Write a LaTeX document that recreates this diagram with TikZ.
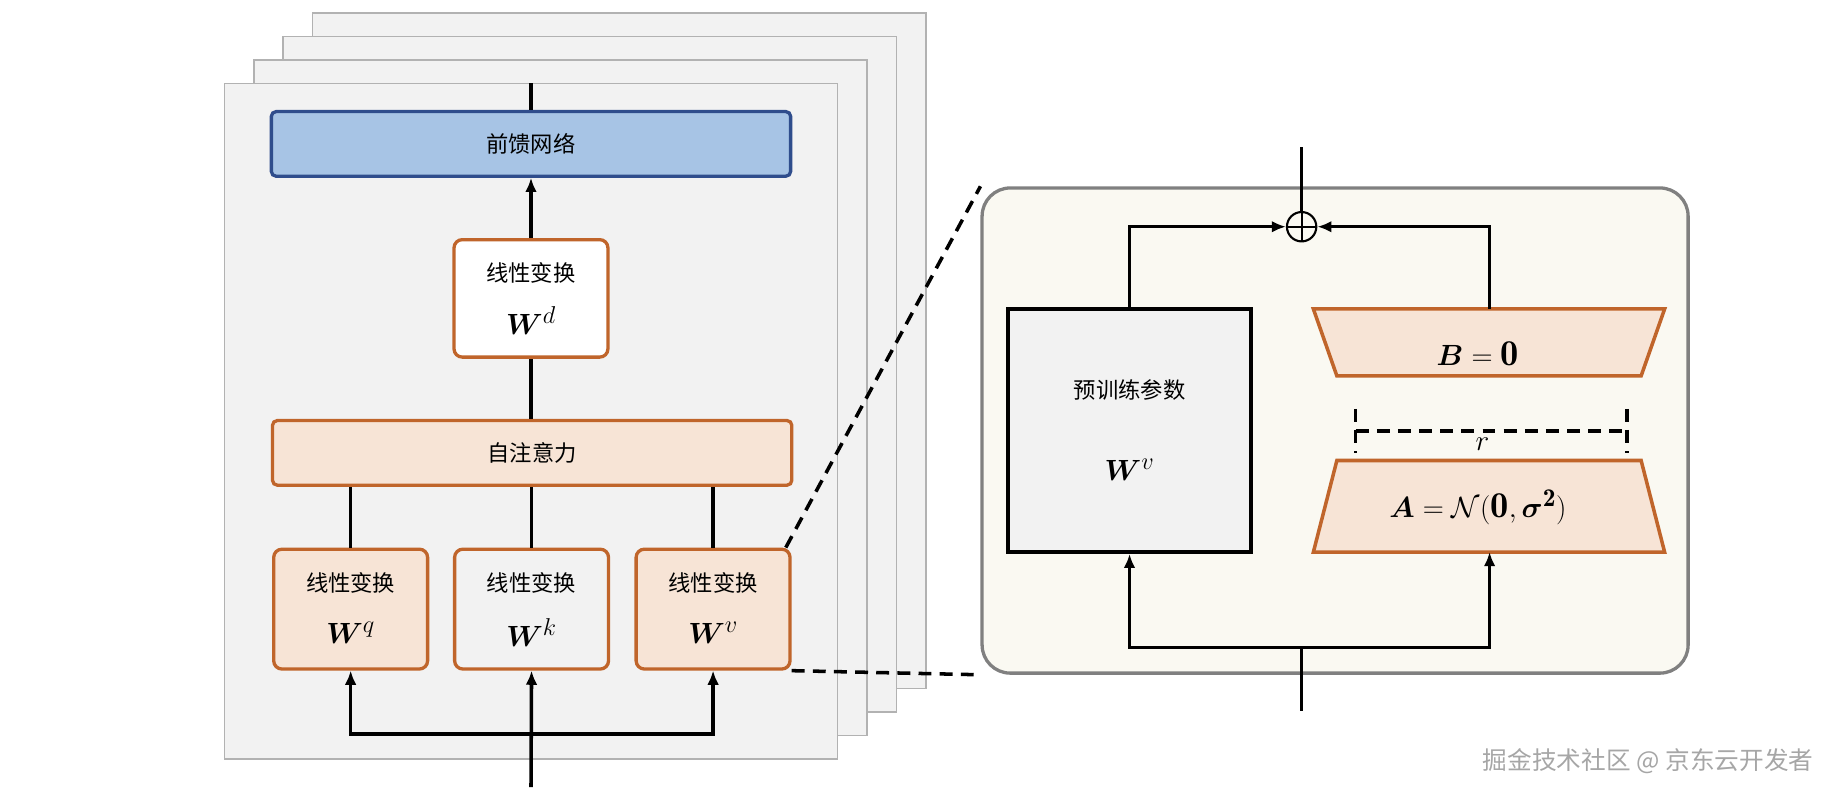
\documentclass[tikz,border=0pt]{standalone}
\usepackage{amsmath}
\usepackage{amsfonts}
\usepackage{fontspec}
\newfontfamily\cjk{Noto Sans CJK SC}
\usetikzlibrary{arrows.meta}
\definecolor{pagegray}{HTML}{F2F2F2}
\definecolor{ffblue}{HTML}{A7C4E5}
\definecolor{ffborder}{HTML}{2F4D8C}
\definecolor{orangeb}{HTML}{C0652B}
\definecolor{orangef}{HTML}{F7E4D6}
\definecolor{panelf}{HTML}{FAF9F2}
\tikzset{
	page/.style={draw=black!30,fill=pagegray,line width=1.4pt},
	lin/.style={draw=orangeb,line width=2.8pt,rounded corners=7pt,minimum width=131pt,minimum height=102pt},
	wire/.style={line width=3pt},
	arr/.style={wire,-{Latex[length=12pt,width=10pt]}},
	dashln/.style={line width=3pt,dash pattern=on 11pt off 7pt},
	zh/.style={font=\cjk\fontsize{19}{19}\selectfont},
	mth/.style={font=\fontsize{31}{31}\selectfont}
}
\begin{document}
\begin{tikzpicture}[x=1pt,y=-1pt]
	\useasboundingbox (0,0) rectangle (1568,676);
	% stacked pages
	\foreach \k in {3,2,1} {
		\draw[page] (191+25*\k,71-20*\k) rectangle (713+25*\k,646-20*\k);
	}
	\draw[page] (191,71) rectangle (713,646);
	\coordinate (ptop) at (452,71);

	\node[draw=ffborder,fill=ffblue,line width=2.8pt,rounded corners=4pt,minimum width=442pt,minimum height=55pt,zh] (ff) at (452,122.5) {前馈网络};
	\node[lin,fill=white,minimum height=100pt] (wd) at (452,254) {};
	\node[zh] at (452,232) {线性变换};
	\node[mth] at (452,273) {$\boldsymbol{W}^d$};
	\node[lin,fill=orangef,rounded corners=4pt,minimum width=442pt,minimum height=55pt,zh] (att) at (453,385.5) {自注意力};

	\node[lin,fill=orangef] (wq) at (298.5,518.5) {};
	\node[lin,fill=pagegray] (wk) at (452.5,518.5) {};
	\node[lin,fill=orangef] (wv) at (607,518.5) {};
	\foreach \n/\s in {wq/q,wk/k,wv/v} {
		\node[zh] at ([yshift=22pt]\n.center) {线性变换};
		\node[mth] at ([yshift=-20pt]\n.center) {$\boldsymbol{W}^\s$};
	}

	\coordinate (inl) at (452,670);
	\coordinate (spl) at (452,625);
	\draw[wire] (ptop) -- (ff.north);
	\draw[arr] (wd.north) -- (ff.south);
	\draw[wire] (att.north -| wd.south) -- (wd.south);
	\draw[wire] (wq.north) -- (wq.north |- att.south);
	\draw[wire] (wk.north) -- (wk.north |- att.south);
	\draw[wire] (wv.north) -- (wv.north |- att.south);
	\draw[arr] (inl) -- (wk.south);
	\draw[arr] (spl) -| (wq.south);
	\draw[arr] (spl) -| (wv.south);

	% zoomed panel
	\node[draw=black!50,fill=panelf,line width=2.8pt,rounded corners=24pt,minimum width=601pt,minimum height=413pt] (panel) at (1136.5,366.5) {};
	\draw[dashln] ([xshift=-5pt]wv.north east) -- (panel.north west);
	\draw[dashln] (wv.south east) -- (panel.south west);

	\node[draw=black,fill=pagegray,line width=3pt,minimum width=207pt,minimum height=207pt] (pre) at (961.5,366.5) {};
	\node[zh] at (961.5,332) {预训练参数};
	\node[mth] at (961.5,400) {$\boldsymbol{W}^v$};

	\draw[draw=orangeb,fill=orangef,line width=3pt] (1118,263) -- (1417,263) -- (1397,320) -- (1138,320) -- cycle;
	\draw[draw=orangeb,fill=orangef,line width=3pt] (1138,392) -- (1397,392) -- (1417,470) -- (1118,470) -- cycle;
	\node[mth] (bmat) at (1258,301) {$\boldsymbol{B}=\mathbf{0}$};
	\node[mth] (amat) at (1258,432) {$\boldsymbol{A}=\mathcal{N}(\mathbf{0},\boldsymbol{\sigma}^{\mathbf{2}})$};
	\coordinate (btop) at (1268,263);
	\coordinate (abot) at (1268,470);

	\draw[dashln] (1154,348) -- (1154,386);
	\draw[dashln] (1385,348) -- (1385,386);
	\draw[dashln] (1154,367) -- (1385,367);
	\node[mth,font=\fontsize{26}{26}\selectfont] at (1262,378) {$r$};

	\node[draw,circle,line width=1.8pt,inner sep=0pt,minimum size=25pt] (plus) at (1108,193) {};
	\draw[line width=1.8pt] (plus.north) -- (plus.south) (plus.west) -- (plus.east);
	\coordinate (outl) at (1108,125);
	\coordinate (inr) at (1108,605);
	\coordinate (splr) at (1108,551);
	\draw[wire] (plus.north) -- (outl);
	\draw[arr] (pre.north) |- (plus.west);
	\draw[arr] (btop) |- (plus.east);
	\draw[wire] (inr) -- (splr);
	\draw[arr] (splr) -| (pre.south);
	\draw[arr] (splr) -| (abot);

	\node[zh,text=black!35,font=\cjk\fontsize{21}{21}\selectfont] (mark) at (1403,648) {掘金技术社区 @ 京东云开发者};
\end{tikzpicture}
\end{document}
